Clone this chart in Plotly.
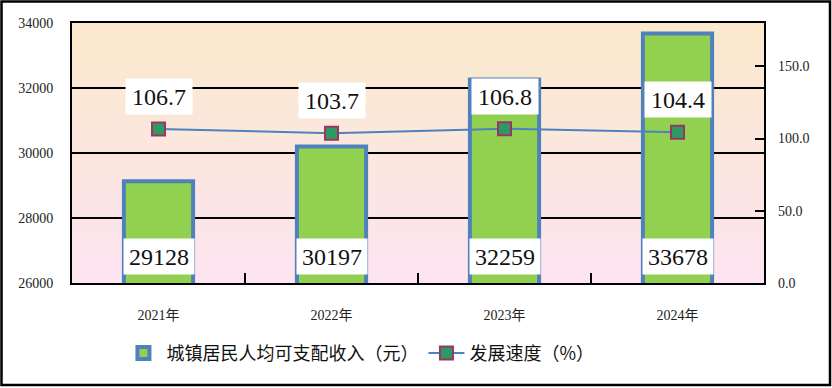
import plotly.graph_objects as go

years = ["2021年", "2022年", "2023年", "2024年"]
income = [29128, 30197, 32259, 33678]
growth = [106.7, 103.7, 106.8, 104.4]
growth_labels = ["106.7", "103.7", "106.8", "104.4"]
y1_ticks = [26000, 28000, 30000, 32000, 34000]
y2_ticks = [0, 50, 100, 150]

W, H = 832, 388
ML, MR, MT, MB = 72, 68, 23, 105
PW, PH = W - ML - MR, H - MT - MB

SERIF = "Liberation Serif, Noto Sans CJK SC"
CJK = "Noto Sans CJK SC, Liberation Serif"

fig = go.Figure()
fig.add_trace(go.Bar(
    x=years, y=income, name="城镇居民人均可支配收入（元）",
    marker=dict(color="#92D050", line=dict(color="#4F81BD", width=4)),
    width=0.4, yaxis="y",
))
fig.add_trace(go.Scatter(
    x=years, y=growth, name="发展速度（%）", mode="lines+markers",
    line=dict(color="#4F81BD", width=2),
    marker=dict(symbol="square", size=13, color="#2E9960",
                line=dict(color="#9B3468", width=2)),
    yaxis="y2",
))

annotations = []
for yr, v in zip(years, income):
    annotations.append(dict(
        x=yr, y=y1_ticks[0], xref="x", yref="y", yanchor="bottom",
        yshift=8, text=str(v), showarrow=False, bgcolor="white",
        width=68, height=33, font=dict(family=SERIF, size=24, color="#111"),
    ))
for yr, v, t in zip(years, growth, growth_labels):
    annotations.append(dict(
        x=yr, y=v, xref="x", yref="y2", yanchor="bottom",
        yshift=14, text=t, showarrow=False, bgcolor="white",
        width=64, height=33, font=dict(family=SERIF, size=24, color="#111"),
    ))

# background gradient stripes
shapes = []
top = (0xFA, 0xE9, 0xCC)
bot = (0xFD, 0xE4, 0xF1)
N = 52
for i in range(N):
    f = (i + 0.5) / N
    c = tuple(round(top[k] + (bot[k] - top[k]) * f) for k in range(3))
    shapes.append(dict(
        type="rect", xref="paper", yref="paper", x0=0, x1=1,
        y0=1 - (i + 1) / N, y1=1 - i / N + 0.002,
        fillcolor="rgb(%d,%d,%d)" % c, line=dict(width=0), layer="below",
    ))
# outer frame
shapes.append(dict(
    type="rect", xref="paper", yref="paper",
    x0=(1.5 - ML) / PW, x1=(830 - ML) / PW,
    y0=(H - MB - 385) / PH, y1=(H - MB - 1.5) / PH,
    line=dict(color="black", width=2.5), layer="above",
))

fig.update_layout(
    width=W, height=H,
    margin=dict(l=ML, r=MR, t=MT, b=MB, autoexpand=False),
    paper_bgcolor="white", plot_bgcolor="rgba(0,0,0,0)",
    showlegend=True,
    legend=dict(orientation="h", x=0.07, xanchor="left", y=-0.27,
                yanchor="middle", font=dict(family=CJK, size=18, color="#111"),
                bgcolor="rgba(0,0,0,0)", itemwidth=36, tracegroupgap=0),
    xaxis=dict(
        showline=True, linecolor="black", linewidth=2, mirror=True,
        ticks="inside", ticklen=10, tickwidth=2, tickcolor="black",
        tickson="boundaries", showgrid=False, automargin=False,
        tickfont=dict(family=SERIF, size=14, color="#222"),
        ticklabelstandoff=18,
    ),
    yaxis=dict(
        range=[26000, 34000], tickvals=y1_ticks, tickformat="d",
        showline=True, linecolor="black", linewidth=2, mirror=True,
        showgrid=True, gridcolor="black", gridwidth=2, zeroline=False,
        ticks="", tickfont=dict(family=SERIF, size=14, color="#222"),
        ticklabelstandoff=14, automargin=False,
    ),
    yaxis2=dict(
        range=[0, 180], tickvals=y2_ticks, tickformat=".1f",
        overlaying="y", side="right", showgrid=False, zeroline=False,
        ticks="inside", ticklen=9, tickwidth=2, tickcolor="black",
        showline=False, automargin=False,
        tickfont=dict(family=SERIF, size=14, color="#222"),
        ticklabelstandoff=13,
    ),
    annotations=annotations, shapes=shapes,
)

fig.write_html(
    "out.html",
    config={"displayModeBar": False},
    post_script="document.body.style.margin='0';document.body.style.overflow='hidden';",
)
